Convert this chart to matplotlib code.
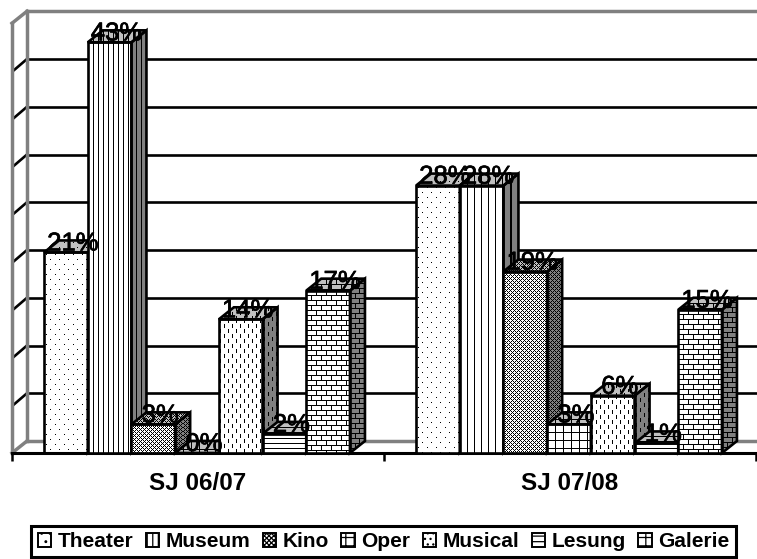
import numpy as np
import matplotlib
matplotlib.use('Agg')
import matplotlib.pyplot as plt
import matplotlib.patheffects as pe
from matplotlib.patches import Patch, Polygon

plt.rcParams['font.family'] = ['Liberation Sans', 'DejaVu Sans']
plt.rcParams['hatch.linewidth'] = 0.9

# data
years = ['SJ 06/07', 'SJ 07/08']
activities = ['Theater', 'Museum', 'Kino', 'Oper', 'Musical', 'Lesung', 'Galerie']
sj_0607 = [21, 43, 3, 0, 14, 2, 17]
sj_0708 = [28, 28, 19, 3, 6, 1, 15]
series = [sj_0607, sj_0708]
legend_hatch = ['..', '|||', 'xxxxxxx', '++', '...', '---', '++']

W, H = 757, 559
PX_X = 372.0   # pixel per group
PX_Y = 9.55    # pixel per percent
DX = 15 / PX_X
DY = 12 / PX_Y
BAR_W = 43.7 / PX_X
GREY = '#808080'


def dots():
    t = np.ones((10, 9))
    t[2, 2] = 0
    t[7, 6] = 0
    return t


def stripes(n):
    t = np.ones((1, n))
    t[0, 0] = 0
    return t


def kino():
    return np.array([[0, 1, 0, 1],
                     [1, 0, 1, 1],
                     [0, 1, 0, 1],
                     [1, 1, 1, 0]], dtype=float)


def grid(n):
    t = np.ones((n, n))
    t[0, :] = 0
    t[:, 0] = 0
    return t


def dashes():
    t = np.ones((10, 8))
    t[0:4, 1] = 0
    t[5:9, 5] = 0
    return t


def hlines(n):
    t = np.ones((n, 1))
    t[0, 0] = 0
    return t


def bricks():
    t = np.ones((10, 10))
    t[0, :] = 0
    t[5, :] = 0
    t[0:5, 0] = 0
    t[5:10, 5] = 0
    return t


tiles = [
    [dots(), stripes(5), kino(), grid(8), dashes(), hlines(5), bricks()],
    [dots(), stripes(7), kino(), grid(8), dashes(), hlines(5), bricks()],
]

fig = plt.figure(figsize=(W / 100, H / 100), dpi=100)
ax = fig.add_axes([12 / W, (H - 453) / H, 744 / W, 45 * PX_Y / H])
ax.set_xlim(-0.5, 1.5)
ax.set_ylim(0, 45)
ax.autoscale(False)
ax.patch.set_alpha(0)

for s in ['top', 'left', 'right']:
    ax.spines[s].set_visible(False)
ax.spines['bottom'].set_linewidth(2.2)

# walls
x_end = 1.5 + 1 / PX_X
for v in range(5, 45, 5):
    ax.plot([-0.5 + DX, x_end], [v + DY, v + DY], color='black', lw=1.9, zorder=1, clip_on=False)
    ax.plot([-0.5 + 1 / PX_X, -0.5 + DX], [v, v + DY], color='black', lw=1.9, zorder=1, clip_on=False)
ax.plot([-0.5 + DX, x_end], [45 + DY, 45 + DY], color=GREY, lw=2.5, zorder=1, clip_on=False)
ax.plot([-0.5 + DX, x_end], [DY, DY], color=GREY, lw=2.5, zorder=1, clip_on=False)
ax.plot([-0.5 + DX, -0.5 + DX], [DY, 45 + DY], color=GREY, lw=2.5, zorder=1, clip_on=False)
ax.plot([-0.5, -0.5], [0, 45], color=GREY, lw=2.5, zorder=1, clip_on=False)
ax.plot([-0.5, -0.5 + DX], [45, 45 + DY], color=GREY, lw=2.5, zorder=1, clip_on=False)
ax.plot([-0.5, -0.5 + DX], [0, DY], color=GREY, lw=2.5, zorder=1, clip_on=False)


def texture(tile, x0, x1, y0, y1, clip, shade, z):
    nx = max(int(np.ceil((x1 - x0) * PX_X)), 1)
    ny = max(int(np.ceil((y1 - y0) * PX_Y)), 1)
    rep = (ny // tile.shape[0] + 1, nx // tile.shape[1] + 1)
    arr = np.tile(tile, rep)[:ny, :nx] * shade
    im = ax.imshow(arr, extent=(x0, x1, y0, y1), cmap='gray', vmin=0, vmax=1,
                   interpolation='nearest', aspect='auto', zorder=z)
    im.set_clip_path(Polygon(clip, transform=ax.transData))


z = 2
for g, vals in enumerate(series):
    left = g - 3.5 * BAR_W - 1 / PX_X
    for i, v in enumerate(vals):
        x0 = left + i * BAR_W
        x1 = x0 + BAR_W
        tile = tiles[g][i]
        top = [(x0, v), (x0 + DX, v + DY), (x1 + DX, v + DY), (x1, v)]
        side = [(x1, 0), (x1 + DX, DY), (x1 + DX, v + DY), (x1, v)]
        texture(tile, x1, x1 + DX, 0, v + DY, side, 0.5, z)
        texture(tile, x0, x1 + DX, v, v + DY, top, 0.75, z)
        ax.add_patch(Polygon(side, closed=True, fill=False, ec='black', lw=1.9, zorder=z + 1, clip_on=False))
        ax.add_patch(Polygon(top, closed=True, fill=False, ec='black', lw=1.9, zorder=z + 1, clip_on=False))
        if v > 0:
            front = [(x0, 0), (x0, v), (x1, v), (x1, 0)]
            texture(tile, x0, x1, 0, v, front, 1.0, z)
            ax.bar(x0, v, BAR_W, align='edge', fill=False, ec='black', lw=1.9, zorder=z + 1)
        z += 2

# value labels on top of everything
for g, vals in enumerate(series):
    left = g - 3.5 * BAR_W - 1 / PX_X
    for i, v in enumerate(vals):
        xc = left + (i + 0.5) * BAR_W + 7 / PX_X
        t = ax.text(xc, v + 2 / PX_Y, '%d%%' % v, ha='center', va='baseline', fontsize=18.5,
                    color='black', zorder=200, clip_on=False)
        t.set_path_effects([pe.withStroke(linewidth=0.5, foreground='black')])

ax.set_yticks([])
ax.set_xticks([-0.5, 0.5, 1.5])
ax.set_xticklabels([])
ax.set_xticks([0, 1], minor=True)
ax.set_xticklabels(years, minor=True, fontsize=17.5, fontweight='bold')
ax.tick_params(axis='x', which='major', length=6, width=1.8)
ax.tick_params(axis='x', which='minor', length=0, pad=14)

handles = [Patch(fc='white', ec='black', lw=1.4, hatch=h, label=a)
           for h, a in zip(legend_hatch, activities)]
leg = ax.legend(handles=handles, ncols=7, loc='center',
                bbox_to_anchor=(383.5 / W, 1 - 541.5 / H), bbox_transform=fig.transFigure,
                frameon=True, fancybox=False, framealpha=1, edgecolor='black',
                prop={'weight': 'bold', 'size': 15}, handlelength=0.65, handleheight=0.65,
                handletextpad=0.3, columnspacing=0.6, borderpad=0.3, borderaxespad=0)
leg.get_frame().set_linewidth(2.2)
leg.set_zorder(300)

fig.savefig('out.png', dpi=100)
